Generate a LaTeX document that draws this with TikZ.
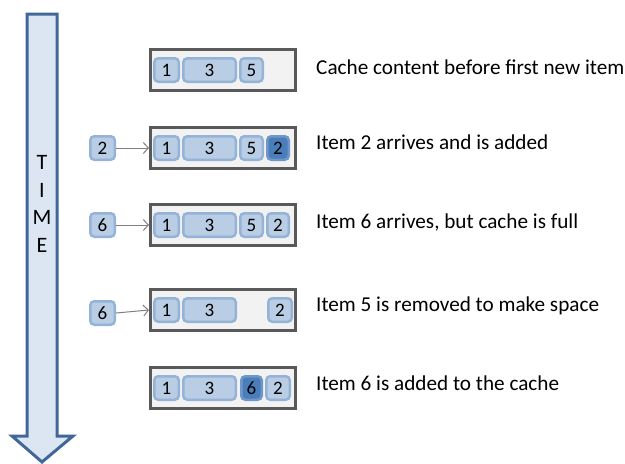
\documentclass[tikz,border=0pt]{standalone}
\usepackage{fontspec}
\setmainfont{Carlito}
\usetikzlibrary{arrows.meta}
\definecolor{itemfill}{HTML}{B9CDE5}
\definecolor{itemline}{HTML}{95B3D7}
\definecolor{darkfill}{HTML}{4A7EBB}
\definecolor{darkline}{HTML}{6F97C8}
\definecolor{cachefill}{HTML}{F2F2F2}
\definecolor{cacheline}{HTML}{595959}
\definecolor{timefill}{HTML}{DCE6F2}
\definecolor{timeline}{HTML}{41679A}
\definecolor{conn}{HTML}{7F7F7F}
\begin{document}
\begin{tikzpicture}[x=1pt,y=-1pt,
  cachebox/.style={draw=cacheline,fill=cachefill,line width=3pt,minimum width=145pt,minimum height=41pt,inner sep=0pt},
  item/.style={draw=itemline,fill=itemfill,line width=2.5pt,rounded corners=4pt,minimum height=23.5pt,inner sep=0pt,font=\fontsize{19}{19}\selectfont},
  ditem/.style={item,draw=darkline,fill=darkfill},
  label/.style={anchor=west,inner sep=0pt,font=\fontsize{21.2}{22}\selectfont},
  tletter/.style={inner sep=0pt,font=\fontsize{22}{22}\selectfont},
  conn/.style={draw=conn,line width=1pt,-{Straight Barb[length=5pt,width=11pt]}}]
\useasboundingbox (0,0) rectangle (625,464);
% time arrow
\draw[draw=timeline,fill=timefill,line width=3pt,line join=miter]
  (27,14) -- (57,14) -- (57,436) -- (73,436) -- (42,462) -- (12,436) -- (27,436) -- cycle;
\node[tletter] (tT) at (42,162) {T};
\node[tletter] (tI) at (42,190) {I};
\node[tletter] (tM) at (42,217) {M};
\node[tletter] (tE) at (42,245) {E};
% row 1
\node[cachebox] (c1) at (223,70) {};
\node[item,minimum width=24.5pt] (r1a) at (166.5,70) {1};
\node[item,minimum width=52.5pt] (r1b) at (209.5,70) {3};
\node[item,minimum width=22.5pt] (r1c) at (251.5,70) {5};
\node[label] (t1) at (316,67) {Cache content before first new item};
% row 2
\node[cachebox] (c2) at (223,148) {};
\node[item,minimum width=24.5pt] (r2a) at (166.5,148) {1};
\node[item,minimum width=52.5pt] (r2b) at (209.5,148) {3};
\node[item,minimum width=22.5pt] (r2c) at (251.5,148) {5};
\node[ditem,minimum width=21.5pt] (r2d) at (278,148) {2};
\node[item,minimum width=24.5pt] (n2) at (102.5,148) {2};
\draw[conn] (n2) -- (c2);
\node[label] (t2) at (316,142) {Item 2 arrives and is added};
% row 3
\node[cachebox] (c3) at (223,225) {};
\node[item,minimum width=24.5pt] (r3a) at (166.5,225) {1};
\node[item,minimum width=52.5pt] (r3b) at (209.5,225) {3};
\node[item,minimum width=22.5pt] (r3c) at (251.5,225) {5};
\node[item,minimum width=21.5pt] (r3d) at (278,225) {2};
\node[item,minimum width=24.5pt] (n3) at (102.5,225) {6};
\draw[conn] (n3) -- (c3);
\node[label] (t3) at (316,222) {Item 6 arrives, but cache is full};
% row 4
\node[cachebox] (c4) at (223,310) {};
\node[item,minimum width=24.5pt] (r4a) at (166.5,310) {1};
\node[item,minimum width=52.5pt] (r4b) at (209.5,310) {3};
\node[item,minimum width=23.5pt] (r4d) at (280,310) {2};
\node[item,minimum width=24.5pt] (n4) at (102.5,313) {6};
\draw[conn] (n4.east) -- (c4.west);
\node[label] (t4) at (316,306) {Item 5 is removed to make space};
% row 5
\node[cachebox] (c5) at (223,388) {};
\node[item,minimum width=24.5pt] (r5a) at (166.5,388) {1};
\node[item,minimum width=52.5pt] (r5b) at (209.5,388) {3};
\node[ditem,minimum width=20.5pt] (r5c) at (251.5,388) {6};
\node[item,minimum width=23.5pt] (r5d) at (278,388) {2};
\node[label] (t5) at (316,383) {Item 6 is added to the cache};
\end{tikzpicture}
\end{document}
